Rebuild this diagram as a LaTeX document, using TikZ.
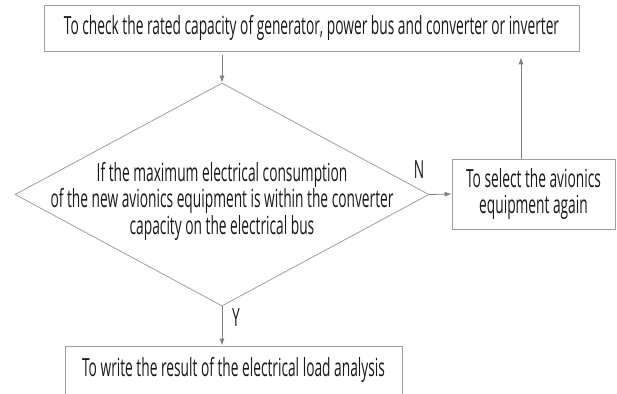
\documentclass[tikz,border=0pt]{standalone}
\usepackage{fontspec}
\setmainfont{Open Sans}[FakeStretch=0.55]
\usetikzlibrary{shapes.geometric,arrows.meta}
\definecolor{khung}{gray}{0.62}
\definecolor{muiten}{gray}{0.5}
\definecolor{chu}{gray}{0.1}
\begin{document}
\begin{tikzpicture}[x=1pt,y=-1pt,>={Latex[length=7pt,width=5pt]},
	font=\fontsize{25}{26.5}\selectfont,
	hop/.style={draw=khung,line width=0.8pt,inner sep=0pt,align=center,text=chu},
	noi/.style={->,draw=muiten,line width=0.8pt}]
	
	%----------------------
	% Khung ảnh
	%----------------------
	\useasboundingbox (0,0) rectangle (617,393);
	
	% Các hộp
	\node[hop,minimum width=535pt,minimum height=45.5pt] (check) at (311.5,28.2)
	{To check the rated capacity of generator, power bus and converter or inverter};
	\node[draw=khung,line width=0.8pt,diamond,inner sep=0pt,
	minimum width=414pt,minimum height=223pt] (decide) at (222,194.5) {};
	\node[align=center,text=chu] (decidetext) at (222,201)
	{If the maximum electrical consumption\\
		of the new avionics equipment is within the converter\\
		capacity on the electrical bus};
	\node[hop,minimum width=163pt,minimum height=70pt] (select) at (533.5,194)
	{To select the avionics\\equipment again};
	\node[hop,minimum width=337pt,minimum height=48pt] (write) at (233.5,370)
	{To write the result of the electrical load analysis};
	
	% Mũi tên
	\draw[noi] ([yshift=-4pt]check.south -| decide.north) -- (decide.north);
	\draw[noi] (decide.east) -- (select.west);
	\draw[noi] (decide.south) -- (decide.south |- write.north);
	\coordinate (back) at ([yshift=-6pt]check.south -| 521,0);
	\draw[noi] (select.north -| back) -- (back);
	
	% Nhãn Y, N
	\node[text=chu] (nlabel) at (419,170) {N};
	\node[text=chu] (ylabel) at (236,318) {Y};
	
\end{tikzpicture}
\end{document}
